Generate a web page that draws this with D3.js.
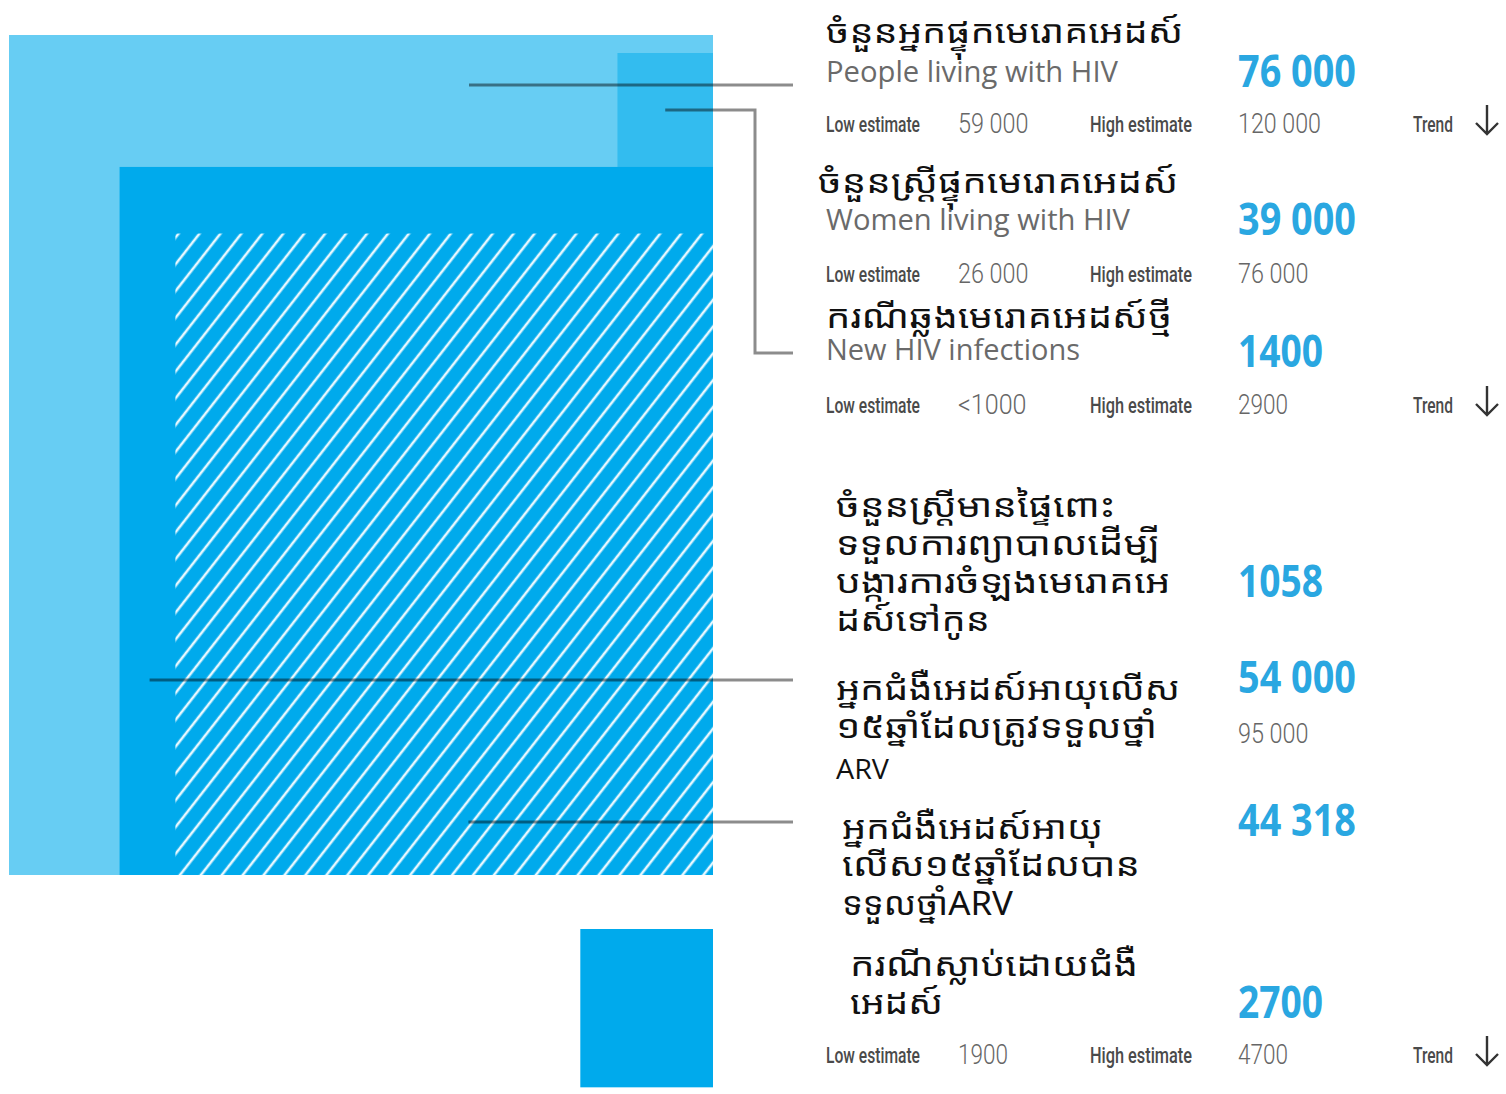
<!DOCTYPE html>
<html><head><meta charset="utf-8">
<script src="https://cdn.jsdelivr.net/npm/d3@7"></script>
<style>
html,body{margin:0;padding:0;background:#fff;}
svg{display:block;}
</style></head>
<body>
<script>
// ---------- data ----------
const categories = ["people","women","newInf","pregnant","needArt","onArt","deaths"];
const values = [76000, 39000, 1400, 1058, 54000, 44318, 2700];
const valueLabels = ["76 000","39 000","1400","1058","54 000","44 318","2700"];
const englishLabels = ["People living with HIV","Women living with HIV","New HIV infections","","","",""];
const khmerLabels = [
  ["ចំនួនអ្នកផ្ទុកមេរោគអេដស៍"],
  ["ចំនួនស្ត្រីផ្ទុកមេរោគអេដស៍"],
  ["ករណីឆ្លងមេរោគអេដស៍ថ្មី"],
  ["ចំនួនស្ត្រីមានផ្ទៃពោះ","ទទួលការព្យាបាលដើម្បី","បង្ការការចំឡងមេរោគអេ","ដស៍ទៅកូន"],
  ["អ្នកជំងឺអេដស៍អាយុលើស","១៥ឆ្នាំដែលត្រូវទទួលថ្នាំ","ARV"],
  ["អ្នកជំងឺអេដស៍អាយុ","លើស១៥ឆ្នាំដែលបាន","ទទួលថ្នាំARV"],
  ["ករណីស្លាប់ដោយជំងឺ","អេដស៍"]
];
const lowEstimates = ["59 000","26 000","<1000",null,null,null,"1900"];
const highEstimates = ["120 000","76 000","2900",null,"95 000",null,"4700"];
const trends = ["down",null,"down",null,null,null,"down"];
const drawnSquares = ["people","newInf","needArt","onArt","deaths"];

// ---------- layout ----------
const W = 1506, H = 1094;
const svg = d3.select("body").append("svg").attr("width", W).attr("height", H);

const sx = d3.scaleSqrt().domain([0, 76000]).range([0, 704]);
const sy = d3.scaleSqrt().domain([0, 76000]).range([0, 840]);
const val = c => values[categories.indexOf(c)];

const RIGHT = 713, BOTTOM = 875;
const sqStyle = {
  people:  {fill:"#67cdf3", anchor:"bottom", y:BOTTOM},
  newInf:  {fill:"#33bcef", anchor:"top", y:53},
  needArt: {fill:"#00aaec", anchor:"bottom", y:BOTTOM},
  onArt:   {fill:"url(#hatch)", anchor:"bottom", y:BOTTOM},
  deaths:  {fill:"#00aaec", anchor:"top", y:929}
};

const defs = svg.append("defs");
const pat = defs.append("pattern").attr("id","hatch").attr("patternUnits","userSpaceOnUse")
  .attr("width",16.5).attr("height",16.5).attr("patternTransform","rotate(38)");
pat.append("rect").attr("width",16.5).attr("height",16.5).attr("fill","#00aaec");
pat.append("line").attr("x1",4).attr("x2",4).attr("y1",0).attr("y2",16.5)
  .attr("stroke","#e8f8ff").attr("stroke-width",2.6);

function sqRect(c){
  const w = sx(val(c)), h = sy(val(c)), s = sqStyle[c];
  return {x: RIGHT - w, y: s.anchor==="bottom" ? s.y - h : s.y, w, h};
}

svg.append("g").selectAll("rect").data(drawnSquares).join("rect")
  .attr("x", c => sqRect(c).x).attr("y", c => sqRect(c).y)
  .attr("width", c => sqRect(c).w).attr("height", c => sqRect(c).h)
  .attr("fill", c => sqStyle[c].fill);

// leader lines
const LABEL_X = 793;
const ppl = sqRect("people"), ni = sqRect("newInf"), na = sqRect("needArt"), oa = sqRect("onArt");
const leaders = [
  [[ppl.x + 460, 85],[LABEL_X, 85]],
  [[ni.x + ni.w/2, 110],[755,110],[755,353],[LABEL_X,353]],
  [[na.x + 30, 680],[LABEL_X,680]],
  [[oa.x + 293, 822],[LABEL_X,822]]
];
svg.append("g").selectAll("path").data(leaders).join("path")
  .attr("d", d => d3.line()(d)).attr("fill","none")
  .attr("stroke","rgba(0,0,0,0.45)").attr("stroke-width",3);

// ---------- text ----------
const KH = "'Noto Sans Khmer','Noto Serif Khmer','Khmer OS','Khmer OS System','DejaVu Sans',sans-serif";
const EN = "'Open Sans','Noto Sans',sans-serif";
const COND = "'Roboto','Liberation Sans',sans-serif";

const khPos = [
  {x:826, y:[43], w:[357]},
  {x:818, y:[193], w:[360]},
  {x:826, y:[328], w:[346]},
  {x:836, y:[517,555,593,631], w:[279,324,334,154]},
  {x:836, y:[700,738,779], w:[344,321,53]},
  {x:842, y:[839,876,915], w:[261,298,171]},
  {x:850, y:[976,1014], w:[288,93]}
];
const enPos = [{y:82,w:292},{y:230,w:304},{y:360,w:254}];
const valPos = [{y:87,w:118},{y:235,w:118},{y:367,w:85},{y:597,w:85},{y:693,w:118},{y:836,w:118},{y:1018,w:85}];
const estY = [132,282,413,null,742,null,1063];
const tg = svg.append("g");

khmerLabels.forEach((lines,i)=>{
  lines.forEach((t,j)=>{
    const isLatin = /^[A-Z]+$/.test(t);
    tg.append("text").attr("x",khPos[i].x).attr("y",khPos[i].y[j])
      .attr("font-family", isLatin ? EN : KH)
      .attr("font-size", isLatin ? 27 : 32).attr("fill","#111")
      .attr("textLength", khPos[i].w[j]).attr("lengthAdjust","spacingAndGlyphs")
      .text(t);
  });
});
englishLabels.forEach((t,i)=>{
  if(!t) return;
  tg.append("text").attr("x",826).attr("y",enPos[i].y).attr("font-family",EN)
    .attr("font-size",30).attr("fill","#6a6a6a")
    .attr("textLength",enPos[i].w).attr("lengthAdjust","spacingAndGlyphs").text(t);
});
valueLabels.forEach((t,i)=>{
  tg.append("text").attr("x",1238).attr("y",valPos[i].y).attr("font-family",EN)
    .attr("font-weight",700).attr("font-size",44).attr("fill","#2aa7e1")
    .attr("textLength",valPos[i].w).attr("lengthAdjust","spacingAndGlyphs").text(t);
});
function est(x,y,t,size,w,color,weight){
  tg.append("text").attr("x",x).attr("y",y).attr("font-family",COND)
    .attr("font-size",size).attr("fill",color).attr("font-weight",weight||400)
    .attr("textLength",w).attr("lengthAdjust","spacingAndGlyphs").text(t);
}
const numW = t => t.replace(/\s/g,"").length * 12.5 + (t.includes(" ")?8:0) + (t.includes("<")?6:0);
categories.forEach((c,i)=>{
  const y = estY[i];
  if(lowEstimates[i]){
    est(826,y,"Low estimate",22,94,"#4a4a4a",500);
    est(958,y+1,lowEstimates[i],28,numW(lowEstimates[i]),"#666",300);
    est(1090,y,"High estimate",22,102,"#4a4a4a",500);
  }
  if(highEstimates[i]) est(1238,y+1,highEstimates[i],28,numW(highEstimates[i]),"#666",300);
  if(trends[i]){
    est(1413,y,"Trend",22,40,"#4a4a4a",500);
    const ax = 1487;
    tg.append("path").attr("d",`M${ax},${y-27}V${y+2}M${ax-11},${y-9}L${ax},${y+2}L${ax+11},${y-9}`)
      .attr("fill","none").attr("stroke","#333").attr("stroke-width",2.4);
  }
});
</script>
</body></html>
